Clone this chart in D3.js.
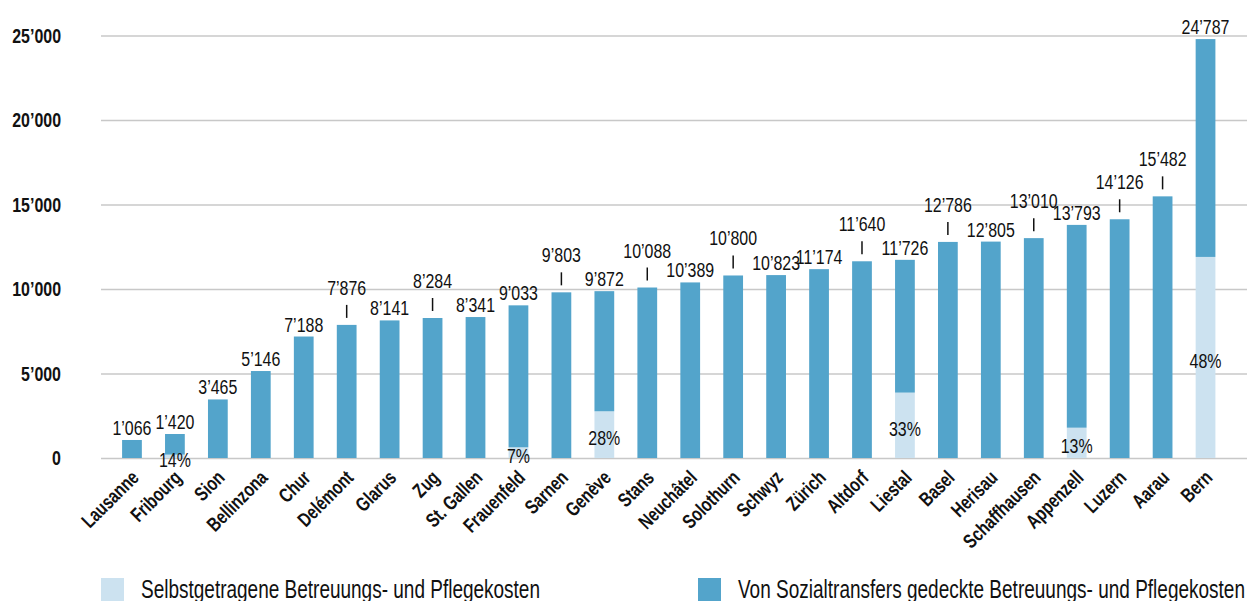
<!DOCTYPE html>
<html>
<head>
<meta charset="utf-8">
<script src="https://cdn.jsdelivr.net/npm/d3@7"></script>
<style>
body { margin: 0; background: #fff; }
svg { display: block; font-family: "Liberation Sans", Arial, sans-serif; }
</style>
</head>
<body>
<div id="chart"></div>
<script>
// Kosten pro Person und Jahr, nach Kantonshauptort
const cities = ['Lausanne', 'Fribourg', 'Sion', 'Bellinzona', 'Chur', 'Delémont', 'Glarus', 'Zug',
	'St. Gallen', 'Frauenfeld', 'Sarnen', 'Genève', 'Stans', 'Neuchâtel', 'Solothurn', 'Schwyz',
	'Zürich', 'Altdorf', 'Liestal', 'Basel', 'Herisau', 'Schaffhausen', 'Appenzell', 'Luzern', 'Aarau', 'Bern'];
const totals = [1066, 1420, 3465, 5146, 7188, 7876, 8141, 8284, 8341, 9033, 9803, 9872, 10088,
	10389, 10800, 10823, 11174, 11640, 11726, 12786, 12805, 13010, 13793, 14126, 15482, 24787];
// Anteil selbstgetragen in %
const selfPct = [0, 14, 0, 0, 0, 0, 0, 0, 0, 7, 0, 28, 0, 0, 0, 0, 0, 0, 33, 0, 0, 0, 13, 0, 0, 48];
const yTicks = [0, 5000, 10000, 15000, 20000, 25000];
const legendLabels = ['Selbstgetragene Betreuungs- und Pflegekosten', 'Von Sozialtransfers gedeckte Betreuungs- und Pflegekosten'];
// labels lifted with a small leader line
const leaderCities = ['Delémont', 'Zug', 'Sarnen', 'Stans', 'Solothurn', 'Altdorf', 'Basel', 'Schaffhausen', 'Luzern', 'Aarau'];

const W = 1247, H = 601;
const LIGHT = '#cce2f0', DARK = '#53a4cb';
const NARROW = 0.76; // squeeze Liberation Sans into a condensed look

const fmt = v => d3.format(',')(v).replace(/,/g, '’');

const data = cities.map((c, i) => {
	const self = totals[i] * selfPct[i] / 100;
	return {city: c, total: totals[i], pct: selfPct[i], self: self, covered: totals[i] - self};
});

const svg = d3.select('#chart').append('svg')
	.attr('width', W)
	.attr('height', H);

const x = d3.scaleBand()
	.domain(cities)
	.range([110.5, 1227])
	.paddingInner(0.54)
	.paddingOuter(0.27);

const y = d3.scaleLinear()
	.domain([0, 25000])
	.range([458, 35.5]);

const cx = d => x(d.city) + x.bandwidth() / 2;

// grid + y labels
const yAxis = svg.append('g')
	.attr('transform', 'translate(101,0)')
	.call(d3.axisLeft(y).tickValues(yTicks).tickFormat(fmt).tickSize(-(W - 101)));
yAxis.select('.domain').remove();
yAxis.selectAll('line').attr('stroke', '#c8c8c8').attr('stroke-width', 1.5);
yAxis.selectAll('text')
	.attr('x', 0)
	.attr('transform', `translate(-40,0) scale(${NARROW},1)`)
	.attr('fill', '#111')
	.style('font-size', '21px')
	.style('font-weight', 'bold');

// x labels
const xAxis = svg.append('g')
	.attr('transform', 'translate(0,458)')
	.call(d3.axisBottom(x).tickSize(0).tickPadding(0));
xAxis.select('.domain').remove();
xAxis.selectAll('text')
	.attr('y', 0)
	.attr('dy', '0.35em')
	.attr('text-anchor', 'end')
	.attr('transform', `translate(3,16) rotate(-45) scale(${NARROW},1)`)
	.attr('fill', '#111')
	.style('font-size', '20px')
	.style('font-weight', 'bold');

// bars
const stack = d3.stack().keys(['self', 'covered'])(data);
const colors = [LIGHT, DARK];

svg.append('g').selectAll('g')
	.data(stack)
	.join('g')
	.attr('fill', (d, i) => colors[i])
	.selectAll('rect')
	.data(d => d)
	.join('rect')
	.attr('x', d => x(d.data.city))
	.attr('width', x.bandwidth())
	.attr('y', d => y(d[1]))
	.attr('height', d => y(d[0]) - y(d[1]));

// value labels
const labels = svg.append('g')
	.attr('fill', '#111')
	.style('font-size', '21px')
	.attr('text-anchor', 'middle');

labels.selectAll('text')
	.data(data)
	.join('text')
	.attr('transform', d => {
		const ty = y(d.total) - (leaderCities.includes(d.city) ? 30 : 5);
		return `translate(${cx(d)},${ty}) scale(${NARROW},1)`;
	})
	.text(d => fmt(d.total));

labels.selectAll('line')
	.data(data.filter(d => leaderCities.includes(d.city)))
	.join('line')
	.attr('x1', cx)
	.attr('x2', cx)
	.attr('y1', d => y(d.total) - 7)
	.attr('y2', d => y(d.total) - 20)
	.attr('stroke', '#111')
	.attr('stroke-width', 1.5);

// percent labels inside the light segment
svg.append('g')
	.attr('fill', '#111')
	.style('font-size', '21px')
	.attr('text-anchor', 'middle')
	.selectAll('text')
	.data(data.filter(d => d.pct > 0))
	.join('text')
	.attr('transform', d => `translate(${cx(d)},${y(d.self / 2) + 3}) scale(${NARROW},1)`)
	.attr('dy', '0.35em')
	.text(d => d.pct + '%');

// legend
const legend = svg.append('g');
const legendX = [101, 698];
const legendWidth = [399, 507];
legendLabels.forEach((t, i) => {
	legend.append('rect')
		.attr('x', legendX[i])
		.attr('y', 578)
		.attr('width', 23)
		.attr('height', 23)
		.attr('fill', colors[i]);
	legend.append('text')
		.attr('x', legendX[i] + 40)
		.attr('y', 598)
		.attr('fill', '#111')
		.attr('textLength', legendWidth[i])
		.attr('lengthAdjust', 'spacingAndGlyphs')
		.style('font-size', '25px')
		.text(t);
});
</script>
</body>
</html>
